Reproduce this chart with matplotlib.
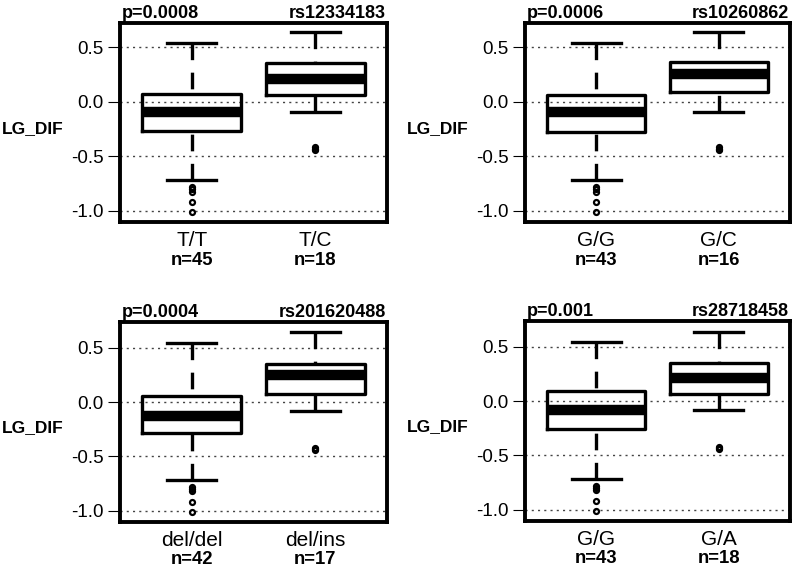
import matplotlib
matplotlib.use("Agg")
import matplotlib.pyplot as plt

plt.rcParams['font.family'] = ['Liberation Sans', 'DejaVu Sans']

# ---------------- data ----------------
p_values = ["p=0.0008", "p=0.0006", "p=0.0004", "p=0.001"]
snp_ids = ["rs12334183", "rs10260862", "rs201620488", "rs28718458"]
genotypes = [["T/T", "T/C"], ["G/G", "G/C"], ["del/del", "del/ins"], ["G/G", "G/A"]]
counts = [[45, 18], [43, 16], [42, 17], [43, 18]]
whis_lo = [[-0.714, -0.089], [-0.714, -0.089], [-0.714, -0.086], [-0.714, -0.086]]
q1_vals = [[-0.265, 0.064], [-0.278, 0.094], [-0.285, 0.071], [-0.254, 0.068]]
medians = [[-0.092, 0.21], [-0.089, 0.256], [-0.125, 0.252], [-0.08, 0.212]]
q3_vals = [[0.07, 0.354], [0.064, 0.363], [0.059, 0.353], [0.089, 0.35]]
whis_hi = [[0.537, 0.637], [0.537, 0.637], [0.54, 0.642], [0.54, 0.637]]
outliers = [
    [[-0.778, -0.80, -0.822, -0.915, -1.013], [-0.415, -0.428, -0.441]],
    [[-0.778, -0.80, -0.822, -0.915, -1.013], [-0.418, -0.431, -0.444]],
    [[-0.778, -0.80, -0.822, -0.915, -1.013], [-0.418, -0.431, -0.444]],
    [[-0.778, -0.80, -0.822, -0.915, -1.013], [-0.418, -0.431, -0.444]],
]
y_ticks = [-1.0, -0.5, 0.0, 0.5]
y_ticklabels = ["-1.0", "-0.5", "0.0", "0.5"]

# ---------------- layout ----------------
W, H = 800, 574
fig = plt.figure(figsize=(W / 100, H / 100), dpi=100)
# axes boxes in pixels: left, top, right, bottom
boxes_px = [(120, 23.3, 387, 222.3), (525, 23.3, 790, 222.3),
            (120, 322, 387, 522), (525, 321, 790, 521)]
ylims = [(-1.104, 0.72), (-1.104, 0.72), (-1.103, 0.737), (-1.103, 0.737)]

LW = 2.4
for i in range(4):
    l, t, r, b = boxes_px[i]
    ax = fig.add_axes([l / W, 1 - b / H, (r - l) / W, (b - t) / H])
    ax.set_xlim(0.42, 2.58)
    ax.set_ylim(*ylims[i])
    for yv in y_ticks:
        ax.axhline(yv, color='#444444', lw=1.0, ls=(0, (1.5, 3)), zorder=0)
    stats = []
    for j in range(2):
        stats.append(dict(med=medians[i][j], q1=q1_vals[i][j], q3=q3_vals[i][j],
                          whislo=whis_lo[i][j], whishi=whis_hi[i][j],
                          fliers=outliers[i][j]))
    res = ax.bxp(stats, positions=[1, 2], widths=0.8, capwidths=0.4,
                 boxprops=dict(color='black', lw=LW),
                 medianprops=dict(color='black', lw=7.5, solid_capstyle='butt'),
                 whiskerprops=dict(color='black', lw=LW, ls=(0, (5, 3.75))),
                 capprops=dict(color='black', lw=LW),
                 flierprops=dict(marker='o', markersize=3.6, markerfacecolor='none',
                                 markeredgecolor='black', markeredgewidth=1.6,
                                 linestyle='none'),
                 manage_ticks=False)
    # R draws whiskers from the whisker end toward the box
    for ln in res['whiskers']:
        xd, yd = ln.get_data()
        ln.set_data(list(xd)[::-1], list(yd)[::-1])
    for sp in ax.spines.values():
        sp.set_linewidth(2.8)
    ax.set_yticks(y_ticks, y_ticklabels)
    ax.tick_params(axis='y', length=8.4, width=0.8, pad=3.5, labelsize=13.5)
    ax.set_xticks([1, 2], genotypes[i])
    ax.tick_params(axis='x', length=0, pad=6.5, labelsize=15)
    for j in range(2):
        ax.annotate(f"n={counts[i][j]}", xy=(j + 1, 0), xycoords=('data', 'axes fraction'),
                    xytext=(0, -30.5), textcoords='offset points',
                    ha='center', va='baseline', fontsize=13.3, fontweight='bold')
    ax.annotate(p_values[i], xy=(0, 1), xycoords='axes fraction', xytext=(1, 3.6),
                textcoords='offset points', ha='left', va='baseline',
                fontsize=13, fontweight='bold')
    ax.annotate(snp_ids[i], xy=(1, 1), xycoords='axes fraction', xytext=(-1, 3.6),
                textcoords='offset points', ha='right', va='baseline',
                fontsize=13, fontweight='bold')
    ax.text(-0.213, 0.47, "LG_DIF", transform=ax.transAxes, ha='right', va='center',
            fontsize=12.5, fontweight='bold')

fig.savefig("out.png", dpi=100)
